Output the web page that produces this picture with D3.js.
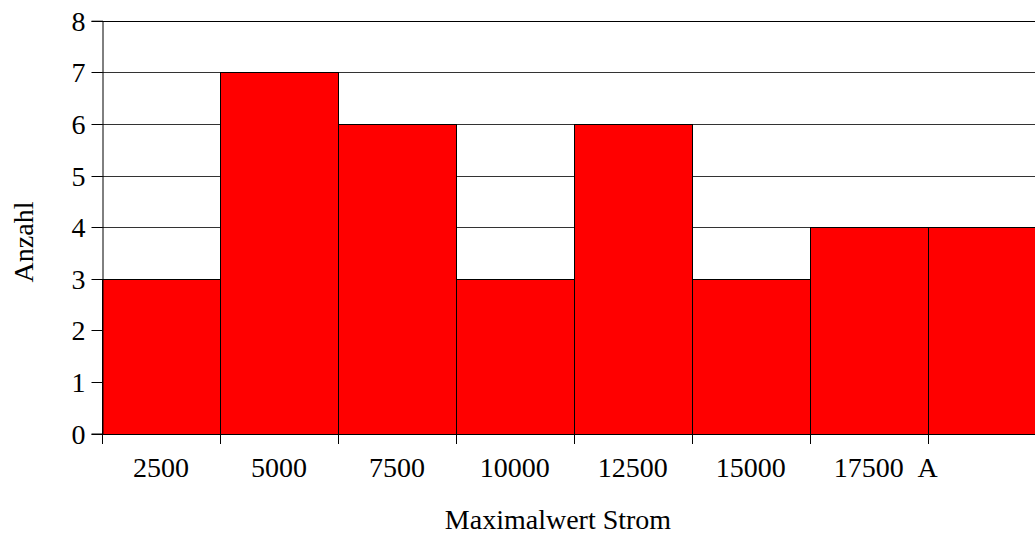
<!DOCTYPE html>
<html>
<head>
<meta charset="utf-8">
<script src="https://cdn.jsdelivr.net/npm/d3@7"></script>
<style>
html,body{margin:0;padding:0;background:#fff;overflow:hidden;}
svg{display:block;font-family:"Liberation Serif","Times New Roman",serif;}
</style>
</head>
<body>
<svg id="chart" width="1035" height="536"></svg>
<script>
const categories = ["2500", "5000", "7500", "10000", "12500", "15000", "17500", ""];
const counts = [3, 7, 6, 3, 6, 3, 4, 4];
const yTicks = [0, 1, 2, 3, 4, 5, 6, 7, 8];
const unitLabel = "A";
const xTitle = "Maximalwert Strom";
const yTitle = "Anzahl";

(function () {
const svg = d3.select("#chart");
const pLeft = 102, pRight = 1045.6, pTop = 20.7, pBottom = 433.5;
const fs = 28;

const x = d3.scaleBand().domain(d3.range(categories.length)).range([pLeft, pRight]).padding(0);
const y = d3.scaleLinear().domain([0, 8]).range([pBottom, pTop]);

// gridlines
svg.append("g").selectAll("line").data(yTicks.filter(t => t > 0)).join("line")
  .attr("x1", pLeft).attr("x2", pRight)
  .attr("y1", d => Math.round(y(d)) + 0.5).attr("y2", d => Math.round(y(d)) + 0.5)
  .attr("stroke", d => d === 8 ? "#000" : "#333").attr("stroke-width", 1);

// bars
svg.append("g").selectAll("rect").data(counts).join("rect")
  .attr("x", (d, i) => Math.round(x(i)) + 0.5)
  .attr("width", (d, i) => Math.round(x(i) + x.bandwidth()) - Math.round(x(i)))
  .attr("y", d => Math.round(y(d)) + 0.5)
  .attr("height", d => Math.round(y(0)) - Math.round(y(d)))
  .attr("fill", "#ff0000").attr("stroke", "#000").attr("stroke-width", 1);

// y axis
const yAxis = d3.axisLeft(y).tickValues(yTicks).tickSize(11).tickPadding(6).tickFormat(d3.format("d"));
const gy = svg.append("g").attr("transform", `translate(${pLeft + 0.5},0)`).call(yAxis);
gy.select(".domain").attr("stroke", "#000");
gy.selectAll(".tick line").attr("stroke", "#000");
gy.selectAll(".tick").attr("transform", d => `translate(0,${Math.round(y(d)) + 0.5})`);
gy.selectAll("text").attr("font-family", "Liberation Serif").attr("font-size", fs).attr("fill", "#000").attr("dy", "0.34em");

// x axis (ticks at bin boundaries)
const xb = d3.scaleLinear().domain([0, categories.length]).range([pLeft, pRight]);
const bounds = d3.range(categories.length + 1);
const gx = svg.append("g");
gx.append("line").attr("x1", pLeft).attr("x2", pRight)
  .attr("y1", Math.round(pBottom) + 0.5).attr("y2", Math.round(pBottom) + 0.5).attr("stroke", "#000");
gx.selectAll("line.t").data(bounds).join("line").attr("class", "t")
  .attr("x1", d => Math.round(xb(d)) + 0.5).attr("x2", d => Math.round(xb(d)) + 0.5)
  .attr("y1", Math.round(pBottom)).attr("y2", 444).attr("stroke", "#000");
gx.selectAll("text.c").data(categories).join("text").attr("class", "c")
  .attr("x", (d, i) => x(i) + x.bandwidth() / 2).attr("y", 477)
  .attr("text-anchor", "middle").attr("font-size", fs).text(d => d);
gx.append("text").attr("x", xb(categories.length - 1)).attr("y", 477)
  .attr("text-anchor", "middle").attr("font-size", fs).text(unitLabel);

// titles
svg.append("text").attr("x", 558).attr("y", 529).attr("text-anchor", "middle")
  .attr("font-size", fs).text(xTitle);
svg.append("text").attr("transform", "translate(33,242) rotate(-90)")
  .attr("text-anchor", "middle").attr("font-size", fs).text(yTitle);
})();
</script>
</body>
</html>
